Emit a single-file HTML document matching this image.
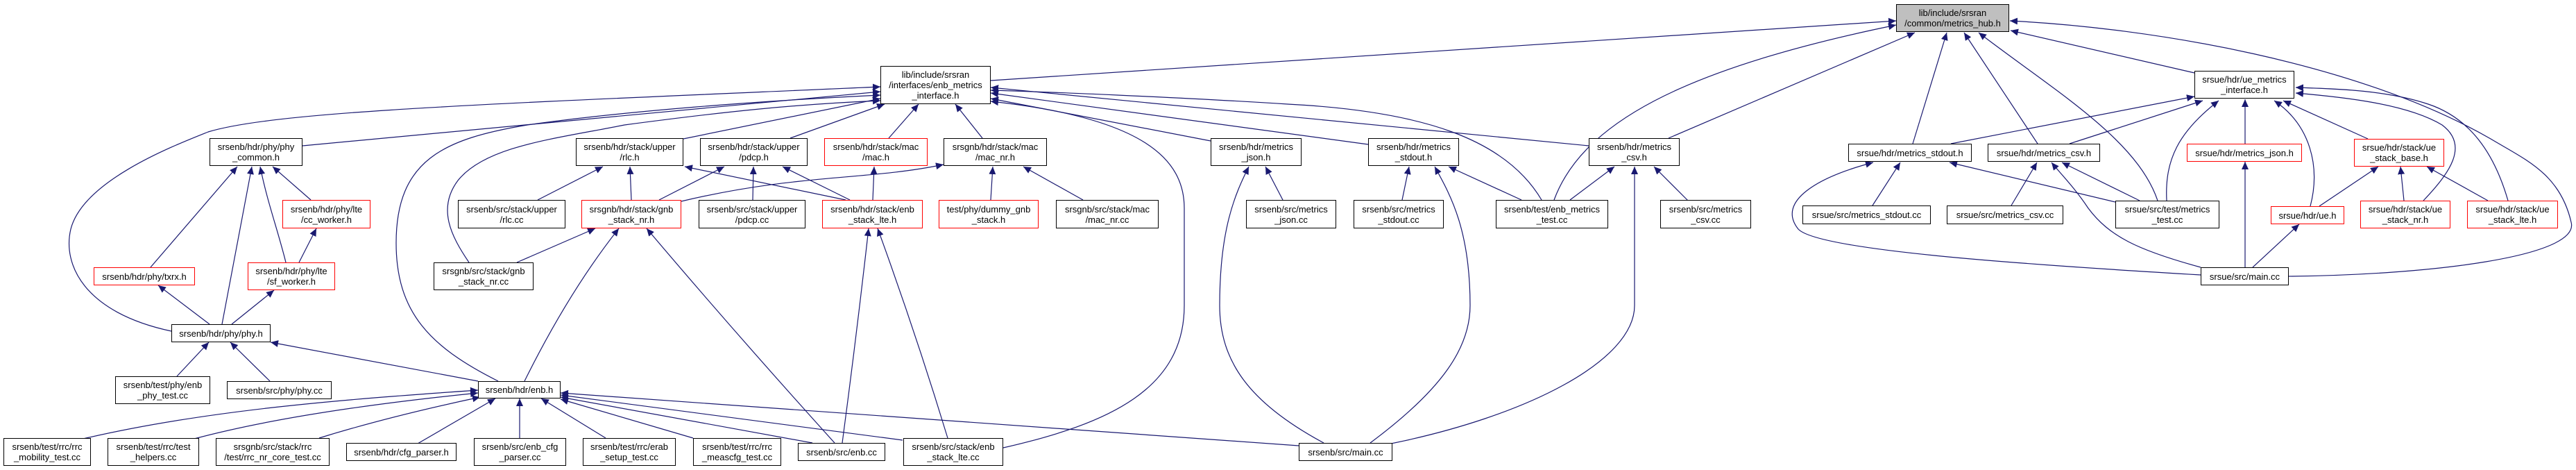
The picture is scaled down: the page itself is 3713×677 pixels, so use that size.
<!DOCTYPE html>
<html><head><meta charset="utf-8"><style>
html,body{margin:0;padding:0;background:#fff;}
#c{position:relative;width:3713px;height:677px;overflow:hidden;}
svg{position:absolute;left:0;top:0;}
.n{position:absolute;box-sizing:border-box;border:1.3px solid #000;background:#fff;display:flex;align-items:center;justify-content:center;text-align:center;font-family:"Liberation Sans",sans-serif;font-size:13px;line-height:15px;color:#000;white-space:nowrap;}
.r{border-color:#ff0000;}
.g{background:#bfbfbf;}
</style></head><body><div id="c">
<svg width="3713" height="677" viewBox="0 0 3713 677">
<defs><marker id="a" markerUnits="userSpaceOnUse" markerWidth="12" markerHeight="10" refX="11" refY="5" orient="auto"><path d="M0,0 L11,5 L0,10 z" fill="#191970"/></marker></defs>
<g fill="none" stroke="#191970" stroke-width="1.2" marker-end="url(#a)">
<!-- to hub -->
<path d="M1428,116 L2733,30"/>
<path d="M2240,288 C2280,180 2420,100 2733,36"/>
<path d="M2405,199 L2760,47"/>
<path d="M2757,207 L2806,47"/>
<path d="M2937,207 L2831,47"/>
<path d="M3110,289 C3080,200 2960,130 2852,47"/>
<path d="M3163,105 L2898,44"/>
<path d="M3299,398 C3500,396 3720,370 3706,320 C3690,250 3640,230 3590,200 C3400,90 3100,40 2897,30"/>
<!-- to enb_metrics_interface -->
<path d="M436,210 L1269,132"/>
<path d="M247,477 C120,450 90,380 102,330 C120,260 250,210 300,190 C400,160 700,150 1269,125"/>
<path d="M718,549 C620,500 571,450 571,350 C571,230 640,200 760,180 C900,160 1100,145 1269,137"/>
<path d="M676,378 C650,340 630,300 660,260 C700,210 800,200 900,180 C1050,160 1150,150 1269,145"/>
<path d="M985,200 L1269,142"/>
<path d="M1139,199 L1275,150"/>
<path d="M1281,199 L1324,150"/>
<path d="M1416,199 L1377,150"/>
<path d="M1745,203 L1428,142"/>
<path d="M1972,208 L1428,134"/>
<path d="M2290,210 L1428,126"/>
<path d="M2222,288 C2170,200 2050,160 1856,150 C1700,140 1500,132 1428,130"/>
<path d="M1446,645 C1600,610 1707,560 1707,440 L1707,300 C1707,230 1650,170 1428,146"/>
<!-- srsenb main -->
<path d="M1908,638 C1800,580 1758,520 1758,440 C1758,330 1780,280 1800,240"/>
<path d="M1975,638 C2080,560 2119,500 2119,440 C2119,330 2090,280 2068,240"/>
<path d="M2000,640 C2200,600 2356,520 2356,440 L2356,240"/>
<path d="M1872,642 L808,566"/>
<!-- metrics row -->
<path d="M1849,288 L1824,240"/>
<path d="M2021,288 L2031,240"/>
<path d="M2193,288 L2088,240"/>
<path d="M2263,288 L2327,240"/>
<path d="M2433,289 L2384,240"/>
<!-- to enb.h -->
<path d="M120,632 C300,590 500,575 689,562"/>
<path d="M280,632 C400,600 550,580 689,566"/>
<path d="M460,631 Q560,600 692,572"/>
<path d="M602,639 L714,574"/>
<path d="M749,631 L749,574"/>
<path d="M873,631 L780,574"/>
<path d="M999,631 L808,575"/>
<path d="M1171,638 L808,572"/>
<path d="M1301,634 L808,569"/>
<!-- enb.h / enb.cc / stacks -->
<path d="M689,549 L390,493"/>
<path d="M756,549 Q820,420 892,329"/>
<path d="M1203,638 Q1060,480 932,329"/>
<path d="M1214,638 Q1235,480 1252,329"/>
<path d="M1366,631 Q1320,480 1265,329"/>
<!-- row2/3 stack -->
<path d="M775,288 L869,240"/>
<path d="M910,288 L908,240"/>
<path d="M1219,288 L987,240"/>
<path d="M950,288 L1044,240"/>
<path d="M1085,288 L1086,240"/>
<path d="M1225,288 L1128,240"/>
<path d="M1258,288 L1260,240"/>
<path d="M982,290 C1150,250 1250,260 1360,237"/>
<path d="M1428,288 L1431,240"/>
<path d="M1561,288 L1475,240"/>
<path d="M745,378 L858,329"/>
<!-- phy -->
<path d="M217,385 L342,240"/>
<path d="M320,467 L363,240"/>
<path d="M412,378 C400,330 385,290 375,240"/>
<path d="M448,288 L393,240"/>
<path d="M431,378 L456,329"/>
<path d="M302,467 L228,411"/>
<path d="M334,467 L395,418"/>
<path d="M255,542 L301,493"/>
<path d="M389,549 L332,493"/>
<!-- srsue -->
<path d="M2812,207 L3163,139"/>
<path d="M2983,207 L3175,145"/>
<path d="M3123,289 C3120,230 3140,190 3198,145"/>
<path d="M3236,207 L3236,143"/>
<path d="M3330,297 C3345,240 3330,180 3278,145"/>
<path d="M3413,200 L3291,145"/>
<path d="M3493,289 C3530,250 3560,210 3520,180 C3470,150 3380,140 3309,134"/>
<path d="M3615,289 C3595,220 3560,170 3500,150 C3440,130 3370,128 3309,126"/>
<path d="M3343,297 L3428,240"/>
<path d="M3465,289 L3460,240"/>
<path d="M3586,289 L3498,240"/>
<path d="M3247,385 L3314,323"/>
<path d="M3236,385 L3236,233"/>
<path d="M3172,385 C3080,360 3040,340 3010,300 C2990,270 2970,250 2957,234"/>
<path d="M3172,396 C2900,380 2620,360 2592,330 C2560,290 2620,255 2700,234"/>
<path d="M3084,289 L2972,234"/>
<path d="M3049,291 L2810,234"/>
<path d="M2699,296 L2739,234"/>
<path d="M2899,296 L2936,234"/>
</g>
</svg>
<div class="n g" style="left:2733px;top:6px;width:163px;height:40px">lib/include/srsran<br>/common/metrics_hub.h</div>
<div class="n" style="left:1269px;top:95px;width:159px;height:55px">lib/include/srsran<br>/interfaces/enb_metrics<br>_interface.h</div>
<div class="n" style="left:3163px;top:102px;width:144px;height:40px">srsue/hdr/ue_metrics<br>_interface.h</div>

<div class="n" style="left:302px;top:199px;width:134px;height:40px">srsenb/hdr/phy/phy<br>_common.h</div>
<div class="n" style="left:830px;top:199px;width:155px;height:40px">srsenb/hdr/stack/upper<br>/rlc.h</div>
<div class="n" style="left:1009px;top:199px;width:155px;height:40px">srsenb/hdr/stack/upper<br>/pdcp.h</div>
<div class="n r" style="left:1188px;top:199px;width:149px;height:40px">srsenb/hdr/stack/mac<br>/mac.h</div>
<div class="n" style="left:1360px;top:199px;width:149px;height:40px">srsgnb/hdr/stack/mac<br>/mac_nr.h</div>
<div class="n" style="left:1745px;top:199px;width:131px;height:40px">srsenb/hdr/metrics<br>_json.h</div>
<div class="n" style="left:1972px;top:199px;width:131px;height:40px">srsenb/hdr/metrics<br>_stdout.h</div>
<div class="n" style="left:2290px;top:199px;width:131px;height:40px">srsenb/hdr/metrics<br>_csv.h</div>
<div class="n" style="left:2664px;top:207px;width:178px;height:26px">srsue/hdr/metrics_stdout.h</div>
<div class="n" style="left:2865px;top:207px;width:162px;height:26px">srsue/hdr/metrics_csv.h</div>
<div class="n r" style="left:3152px;top:207px;width:166px;height:26px">srsue/hdr/metrics_json.h</div>
<div class="n r" style="left:3393px;top:200px;width:130px;height:40px">srsue/hdr/stack/ue<br>_stack_base.h</div>

<div class="n r" style="left:407px;top:288px;width:127px;height:41px">srsenb/hdr/phy/lte<br>/cc_worker.h</div>
<div class="n" style="left:660px;top:288px;width:155px;height:41px">srsenb/src/stack/upper<br>/rlc.cc</div>
<div class="n r" style="left:838px;top:288px;width:144px;height:41px">srsgnb/hdr/stack/gnb<br>_stack_nr.h</div>
<div class="n" style="left:1007px;top:288px;width:154px;height:41px">srsenb/src/stack/upper<br>/pdcp.cc</div>
<div class="n r" style="left:1185px;top:288px;width:145px;height:41px">srsenb/hdr/stack/enb<br>_stack_lte.h</div>
<div class="n r" style="left:1353px;top:288px;width:144px;height:41px">test/phy/dummy_gnb<br>_stack.h</div>
<div class="n" style="left:1522px;top:288px;width:148px;height:41px">srsgnb/src/stack/mac<br>/mac_nr.cc</div>
<div class="n" style="left:1796px;top:288px;width:130px;height:41px">srsenb/src/metrics<br>_json.cc</div>
<div class="n" style="left:1951px;top:288px;width:130px;height:41px">srsenb/src/metrics<br>_stdout.cc</div>
<div class="n" style="left:2156px;top:288px;width:162px;height:41px">srsenb/test/enb_metrics<br>_test.cc</div>
<div class="n" style="left:2393px;top:288px;width:131px;height:41px">srsenb/src/metrics<br>_csv.cc</div>
<div class="n" style="left:2598px;top:296px;width:185px;height:27px">srsue/src/metrics_stdout.cc</div>
<div class="n" style="left:2806px;top:296px;width:168px;height:27px">srsue/src/metrics_csv.cc</div>
<div class="n" style="left:3049px;top:289px;width:150px;height:40px">srsue/src/test/metrics<br>_test.cc</div>
<div class="n r" style="left:3273px;top:297px;width:106px;height:26px">srsue/hdr/ue.h</div>
<div class="n r" style="left:3402px;top:289px;width:130px;height:40px">srsue/hdr/stack/ue<br>_stack_nr.h</div>
<div class="n r" style="left:3556px;top:289px;width:131px;height:40px">srsue/hdr/stack/ue<br>_stack_lte.h</div>

<div class="n r" style="left:135px;top:385px;width:146px;height:26px">srsenb/hdr/phy/txrx.h</div>
<div class="n r" style="left:357px;top:378px;width:126px;height:40px">srsenb/hdr/phy/lte<br>/sf_worker.h</div>
<div class="n" style="left:625px;top:378px;width:144px;height:40px">srsgnb/src/stack/gnb<br>_stack_nr.cc</div>
<div class="n" style="left:3172px;top:385px;width:127px;height:26px">srsue/src/main.cc</div>

<div class="n" style="left:247px;top:467px;width:143px;height:26px">srsenb/hdr/phy/phy.h</div>

<div class="n" style="left:166px;top:542px;width:137px;height:40px">srsenb/test/phy/enb<br>_phy_test.cc</div>
<div class="n" style="left:327px;top:549px;width:151px;height:26px">srsenb/src/phy/phy.cc</div>
<div class="n" style="left:689px;top:549px;width:119px;height:25px">srsenb/hdr/enb.h</div>

<div class="n" style="left:5px;top:631px;width:126px;height:40px">srsenb/test/rrc/rrc<br>_mobility_test.cc</div>
<div class="n" style="left:155px;top:631px;width:132px;height:40px">srsenb/test/rrc/test<br>_helpers.cc</div>
<div class="n" style="left:311px;top:631px;width:164px;height:40px">srsgnb/src/stack/rrc<br>/test/rrc_nr_core_test.cc</div>
<div class="n" style="left:499px;top:638px;width:159px;height:26px">srsenb/hdr/cfg_parser.h</div>
<div class="n" style="left:683px;top:631px;width:133px;height:40px">srsenb/src/enb_cfg<br>_parser.cc</div>
<div class="n" style="left:840px;top:631px;width:134px;height:40px">srsenb/test/rrc/erab<br>_setup_test.cc</div>
<div class="n" style="left:999px;top:631px;width:127px;height:40px">srsenb/test/rrc/rrc<br>_meascfg_test.cc</div>
<div class="n" style="left:1150px;top:638px;width:126px;height:26px">srsenb/src/enb.cc</div>
<div class="n" style="left:1302px;top:631px;width:144px;height:40px">srsenb/src/stack/enb<br>_stack_lte.cc</div>
<div class="n" style="left:1872px;top:638px;width:135px;height:26px">srsenb/src/main.cc</div>
</div></body></html>
